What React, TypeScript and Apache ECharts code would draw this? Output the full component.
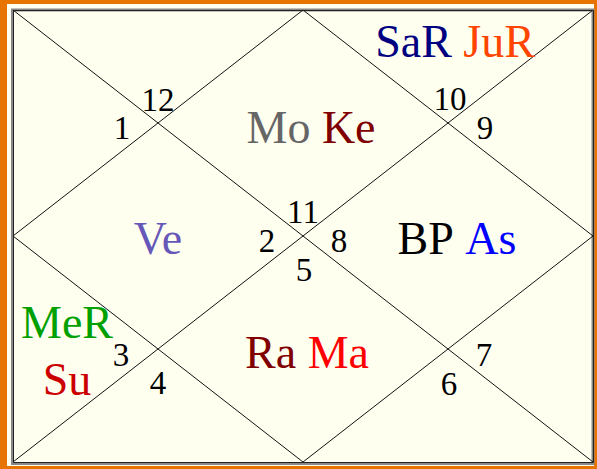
import React, { useEffect, useRef } from "react";
import * as echarts from "echarts";

// House numbers (North-Indian layout, counter-clockwise from the top diamond)
const houses = [1, 2, 3, 4, 5, 6, 7, 8, 9, 10, 11, 12];
// Sign number shown in each house
const signs = [11, 12, 1, 2, 3, 4, 5, 6, 7, 8, 9, 10];
// Planets in each house; the house-5 group is stacked on two lines
const planets: string[][] = [
  ["Mo", "Ke"], [], [], ["Ve"], ["MeR", "Su"], [],
  ["Ra", "Ma"], [], [], ["BP", "As"], [], ["SaR", "JuR"],
];
const stackedHouses = [5];
const planetColors: Record<string, string> = {
  Mo: "#666666", Ke: "#800000", SaR: "#000080", JuR: "#ff4500",
  Ve: "#6658b8", BP: "#000000", As: "#0000ff", Ra: "#800000",
  Ma: "#ff0000", MeR: "#00a000", Su: "#cc0000",
};

// ---- layout (pixels) ----
const W = 597, H = 469;
const FX = 13, FY = 10, FW = 580, FH = 452;
const signPos: [number, number][] = [
  [303, 212], [158, 100], [122, 128], [267, 241], [121, 355], [158, 383],
  [304, 270], [449, 384], [484, 355], [339, 241], [485, 128], [450, 99],
];
const planetPos: ([number, number] | null)[] = [
  [311, 127], null, null, [158, 238], [67, 351], null,
  [307, 352], null, null, [457, 238], null, [455, 41],
];
const chartLines: [number, number][][] = [
  [[0, 0], [1, 1]], [[1, 0], [0, 1]],
  [[0.5, 0], [1, 0.5]], [[1, 0.5], [0.5, 1]],
  [[0.5, 1], [0, 0.5]], [[0, 0.5], [0.5, 0]],
];

const FONT = "Liberation Serif, Times New Roman, Times, serif";
const toUnit = (p: [number, number]) => [(p[0] - FX) / FW, (p[1] - FY) / FH];

export default function App() {
  const ref = useRef<HTMLDivElement>(null);
  useEffect(() => {
    if (!ref.current) return;
    const chart = echarts.init(ref.current, null, { renderer: "svg" });
    const rich: Record<string, any> = {};
    Object.keys(planetColors).forEach((k) => {
      rich[k] = { color: planetColors[k], fontSize: 46, fontFamily: FONT, lineHeight: 57 };
    });
    const signData = houses.map((h, i) => ({
      value: toUnit(signPos[i]),
      name: String(signs[i]),
    }));
    const planetData = houses
      .map((h, i) => {
        const p = planetPos[i];
        if (!p || planets[i].length === 0) return null;
        const sep = stackedHouses.includes(h) ? "\n" : " ";
        return {
          value: toUnit(p),
          name: planets[i].map((n) => `{${n}|${n}}`).join(sep),
        };
      })
      .filter(Boolean);
    chart.setOption({
      animation: false,
      backgroundColor: "#e87400",
      graphic: [
        { type: "rect", z: -10, shape: { x: 7, y: 4, width: 587, height: 462 }, style: { fill: "#fffff0" } },
        { type: "rect", z: -9, shape: { x: FX - 0.5, y: FY, width: FW + 0.5, height: FH + 1.5 }, style: { fill: "none", stroke: "#888888", lineWidth: 3 } },
        { type: "rect", z: 10, shape: { x: FX + 0.5, y: FY + 0.5, width: FW, height: FH }, style: { fill: "none", stroke: "#222222", lineWidth: 1 } },
      ],
      grid: { left: FX, top: FY, width: FW, height: FH },
      xAxis: { type: "value", min: 0, max: 1, show: false },
      yAxis: { type: "value", min: 0, max: 1, inverse: true, show: false },
      series: [
        {
          type: "lines",
          coordinateSystem: "cartesian2d",
          silent: true,
          data: chartLines.map((c) => ({ coords: c })),
          lineStyle: { color: "#111111", width: 1, opacity: 1 },
          symbol: "none",
        },
        {
          type: "scatter",
          symbolSize: 0,
          silent: true,
          itemStyle: { opacity: 1 },
          data: signData,
          label: {
            show: true,
            position: "inside",
            formatter: (p: any) => p.name,
            color: "#000000",
            fontSize: 33,
            fontFamily: FONT,
          },
        },
        {
          type: "scatter",
          symbolSize: 0,
          silent: true,
          itemStyle: { opacity: 1 },
          data: planetData,
          label: {
            show: true,
            position: "inside",
            formatter: (p: any) => p.name,
            fontSize: 46,
            fontFamily: FONT,
            color: "#000000",
            align: "center",
            rich,
          },
        },
      ],
    });
    return () => chart.dispose();
  }, []);
  return (
    <div
      ref={ref}
      style={{ position: "fixed", left: 0, top: 0, width: W, height: H }}
    />
  );
}
